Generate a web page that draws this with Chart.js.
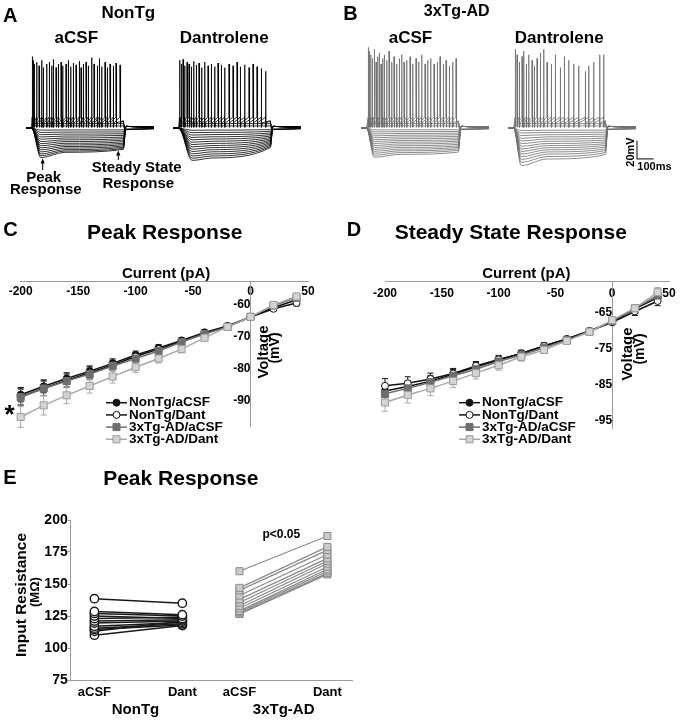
<!DOCTYPE html>
<html>
<head>
<meta charset="utf-8">
<script src="https://cdn.jsdelivr.net/npm/chart.js@4.4.1/dist/chart.umd.min.js"></script>
<style>
  body { margin: 0; background: #fff; }
  #fig { position: relative; width: 681px; height: 720px; overflow: hidden;
         font-family: "Liberation Sans", Arial, Helvetica, sans-serif; font-weight: bold; color: #000; }
  #fig canvas { position: absolute; }
  .t { position: absolute; line-height: 1; white-space: nowrap; }
</style>
</head>
<body>
<div id="fig">
  <canvas id="traceA1" width="130" height="135" style="left:25px;top:40.5px"></canvas>
  <canvas id="traceA2" width="130" height="135" style="left:172.3px;top:40.5px"></canvas>
  <canvas id="traceB1" width="130" height="135" style="left:360px;top:40.5px"></canvas>
  <canvas id="traceB2" width="150" height="135" style="left:506.7px;top:40.5px"></canvas>
  <canvas id="chartC" width="340" height="200" style="left:0;top:250px"></canvas>
  <canvas id="chartD" width="336" height="200" style="left:345px;top:250px"></canvas>
  <canvas id="chartE" width="360" height="225" style="left:0;top:495px"></canvas>
  <svg width="681" height="720" style="position:absolute;left:0;top:0">
    <line x1="42.7" y1="170" x2="42.7" y2="162" stroke="#000" stroke-width="1"/>
    <polygon points="42.7,158.5 40.6,163.5 44.8,163.5" fill="#000"/>
    <line x1="118.3" y1="160" x2="118.3" y2="154" stroke="#000" stroke-width="1"/>
    <polygon points="118.3,150.5 116.2,155.5 120.4,155.5" fill="#000"/>
  </svg>
</div>
<script>
// ---- panel A / B traces (mV relative to rest, ms from step onset) ----
const aAcsfPeak   = [-2, -4.6, -7, -9.5, -12, -14.5, -16.8, -19, -21.3, -23.5, -25.8, -28, -30, -32];
const aAcsfMid    = [-1.9, -4.2, -6.4, -8.5, -10.6, -12.6, -14.5, -16.4, -18.2, -19.9, -21.6, -23.3, -24.8, -26.2];
const aAcsfSteady = [-1.8, -4, -6, -7.8, -9.6, -11.3, -13, -14.7, -16.3, -17.8, -19.3, -20.7, -22, -23];
const aAcsfSpikeT = [4, 10, 16, 30, 44, 60, 70, 90, 106, 120, 130, 146, 160, 176, 186, 206, 220, 234, 250, 266,
                     286, 296, 310, 326, 340, 360, 374, 394, 406, 420, 440, 454, 470, 490, 506, 530];
const aAcsfSpikeH = [78, 74, 70, 72, 68, 74, 66, 70, 72, 68, 75, 66, 70, 72, 68, 70, 74, 67, 71, 69,
                     73, 66, 70, 72, 68, 77, 70, 68, 76, 67, 72, 66, 70, 68, 71, 69];

const aDantPeak   = [-2.2, -4.8, -7.4, -10, -12.6, -15.2, -17.8, -20.3, -22.8, -25.3, -27.8, -30.2, -32.6, -35];
const aDantMid    = [-2, -4.5, -6.9, -9.3, -11.7, -14.1, -16.5, -18.8, -21.1, -23.4, -25.7, -28, -30.2, -32.4];
const aDantSteady = [-1.5, -3.4, -5.2, -6.9, -8.5, -10, -11.5, -13, -14.4, -15.8, -17.2, -18.6, -19.8, -21];
const aDantSpikeT = [6, 16, 26, 36, 50, 62, 76, 90, 106, 122, 138, 156, 176, 196, 216, 236, 256, 276, 302, 326,
                     350, 370, 396, 422, 446, 470, 496, 522];
const aDantSpikeH = [74, 70, 75, 68, 72, 70, 67, 73, 69, 71, 66, 72, 68, 70, 67, 71, 69, 66, 70, 68,
                     72, 67, 69, 66, 70, 67, 65, 62];

const bAcsfPeak   = [-1.8, -4, -6.2, -8.3, -10.4, -12.5, -14.6, -16.7, -18.8, -20.9, -23, -25.1, -27.2, -29.4, -31.6];
const bAcsfMid    = [-1.7, -3.7, -5.7, -7.6, -9.5, -11.4, -13.3, -15.2, -17.1, -19, -20.9, -22.8, -24.6, -26.5, -28.4];
const bAcsfSteady = [-1.6, -3.5, -5.3, -7.1, -8.9, -10.7, -12.4, -14.1, -15.8, -17.5, -19.2, -20.8, -22.4, -24, -26];
const bAcsfSpikeT = [10, 16, 24, 34, 46, 56, 66, 76, 86, 96, 106, 120, 134, 150, 164, 180, 196, 210, 224, 240,
                     260, 276, 296, 312, 330, 350, 366, 384, 404, 424, 440, 460, 476, 496, 516, 536];
const bAcsfSpikeH = [88, 84, 80, 76, 86, 72, 78, 82, 70, 76, 80, 74, 84, 72, 78, 70, 76, 80, 72, 74,
                     78, 70, 76, 72, 80, 70, 74, 76, 70, 72, 78, 70, 74, 68, 72, 76];

const bDantPeak   = [-2.4, -5.2, -8, -10.9, -13.8, -16.7, -19.6, -22.5, -25.3, -28.1, -31, -34, -37.2, -40.7];
const bDantMid    = [-2.2, -4.6, -7, -9.4, -11.8, -14.2, -16.6, -18.9, -21.2, -23.5, -25.8, -28.2, -30.8, -33.5];
const bDantSteady = [-2, -4.2, -6.4, -8.6, -10.7, -12.8, -14.8, -16.8, -18.7, -20.6, -22.5, -24.4, -26.5, -28.7];
const bDantSpikeT = [10, 20, 34, 50, 60, 76, 90, 110, 124, 140, 160, 180, 200, 226, 250, 280, 304, 330, 360, 390,
                     430, 450, 480, 516, 540];
const bDantSpikeH = [86, 80, 72, 78, 84, 70, 80, 74, 68, 76, 82, 86, 72, 70, 80, 66, 78, 74, 70, 68,
                     62, 68, 72, 80, 80];

const subThreshold = [2.5, 5];
const scaleBarMv = 20;
const scaleBarMs = 100;

// ---- panels C / D: I-V curves ----
const currents = [-200, -180, -160, -140, -120, -100, -80, -60, -40, -20, 0, 20, 40];
const seriesNames = ['NonTg/aCSF', 'NonTg/Dant', '3xTg-AD/aCSF', '3xTg-AD/Dant'];

const peakNonTgAcsf = [-88.0, -85.4, -83.0, -80.7, -78.3, -75.7, -73.5, -71.2, -68.7, -66.7, -63.9, -61.0, -58.7];
const peakNonTgDant = [-88.6, -86.0, -83.6, -81.2, -78.8, -76.2, -73.9, -71.5, -69.0, -66.9, -64.0, -61.4, -59.6];
const peak3xAcsf    = [-88.8, -86.1, -83.8, -81.6, -79.1, -76.8, -74.5, -71.7, -69.2, -67.0, -63.9, -60.4, -58.0];
const peak3xDant    = [-94.9, -91.3, -88.2, -85.3, -82.4, -79.5, -76.8, -73.9, -70.4, -67.0, -63.9, -60.2, -57.6];
const peakErrNonTgAcsf = [2.2, 2.0, 1.8, 1.6, 1.4, 1.2, 1.0, 0.9, 0.7, 0.6, 0.5, 0.6, 0.8];
const peakErrNonTgDant = [2.6, 2.3, 2.0, 1.8, 1.5, 1.3, 1.1, 0.9, 0.7, 0.5, 0.4, 0.6, 0.9];
const peakErr3xAcsf    = [2.4, 2.2, 2.0, 1.8, 1.6, 1.4, 1.2, 1.0, 0.8, 0.6, 0.5, 0.7, 0.9];
const peakErr3xDant    = [3.2, 3.0, 2.6, 2.2, 2.0, 1.7, 1.4, 1.1, 0.9, 0.6, 0.5, 0.7, 1.0];

const ssNonTgAcsf = [-86.7, -85.5, -84.0, -82.1, -80.1, -78.2, -76.4, -74.3, -72.4, -70.2, -67.6, -64.1, -61.0];
const ssNonTgDant = [-85.3, -84.6, -83.4, -81.9, -79.8, -78.0, -76.4, -74.3, -72.4, -70.2, -67.8, -64.8, -61.9];
const ss3xAcsf    = [-87.5, -86.0, -84.3, -82.5, -80.7, -78.6, -76.8, -74.8, -72.7, -70.4, -67.4, -63.9, -60.4];
const ss3xDant    = [-89.9, -87.8, -86.0, -84.0, -81.8, -79.6, -77.3, -75.4, -72.9, -70.4, -67.2, -63.9, -59.5];
const ssErrNonTgAcsf = [1.8, 1.6, 1.5, 1.3, 1.2, 1.0, 0.9, 0.8, 0.6, 0.5, 0.6, 0.9, 1.1];
const ssErrNonTgDant = [2.0, 1.8, 1.6, 1.4, 1.2, 1.1, 0.9, 0.8, 0.6, 0.5, 0.6, 1.1, 1.3];
const ssErr3xAcsf    = [2.0, 1.8, 1.6, 1.5, 1.3, 1.1, 1.0, 0.8, 0.6, 0.5, 0.6, 0.9, 1.2];
const ssErr3xDant    = [2.4, 2.2, 2.0, 1.8, 1.6, 1.4, 1.2, 1.0, 0.8, 0.6, 0.6, 1.0, 1.3];

const yTicksC = [-60, -70, -80, -90];
const yTicksD = [-65, -75, -85, -95];

// ---- panel E: input resistance, paired cells ----
const groupPos = [1, 2, 2.65, 3.65];
const groupLabels = ['aCSF', 'Dant', 'aCSF', 'Dant'];
const nonTgAcsfR = [138.5, 128.5, 127, 125, 123, 121, 119.5, 117, 115.5, 114.5, 113, 110];
const nonTgDantR = [135, 126, 125, 123, 124, 122, 121, 120, 119, 118, 121, 117.5];
const tgAcsfR    = [160, 147, 145, 141, 138, 135.5, 133, 131, 129, 128, 127, 126.5];
const tgDantR    = [187.5, 179, 176.5, 173, 170, 168, 166, 163.5, 161.5, 160, 158.5, 157.5];

const FONT = '"Liberation Sans", Arial, Helvetica, sans-serif';
const AXIS = '#9a9a9a';
Chart.defaults.font.family = FONT;

const fig = document.getElementById('fig');

/**
 * Places a text label, x is the centre (or left edge) and base the baseline
 */
function label(text, x, base, size, left) {
  const d = document.createElement('div');
  d.className = 't';
  d.textContent = text;
  d.style.fontSize = size + 'px';
  d.style.top = (base - 0.847 * size) + 'px';
  d.style.left = x + 'px';
  if (!left) d.style.transform = 'translateX(-50%)';
  fig.appendChild(d);
}

/**
 * Places a text label rotated to read bottom-to-top, centred on cx, cy
 */
function vlabel(text, cx, cy, size) {
  const d = document.createElement('div');
  d.className = 't';
  d.textContent = text;
  d.style.fontSize = size + 'px';
  d.style.left = cx + 'px';
  d.style.top = cy + 'px';
  d.style.transform = 'translate(-50%,-50%) rotate(-90deg)';
  fig.appendChild(d);
}

const pts = arr => arr.map(([x, y]) => ({ x, y }));

/**
 * Builds the overlaid sweeps of one recording: hyperpolarising steps,
 * two subthreshold steps and two spiking steps sharing the spike list
 */
function sweepSets(peak, mid, steady, spikeT, spikeH, peakT, color) {
  const base = { borderColor: color, borderWidth: 0.8, pointRadius: 0, fill: false };
  const sets = [];
  peak.forEach((pk, i) => {
    sets.push({ ...base, cubicInterpolationMode: 'monotone',
      data: pts([[-34, 0], [0, 0], [peakT, pk], [200, mid[i]], [550, steady[i]], [566, 2], [734, 1]]) });
  });
  subThreshold.forEach(lvl => {
    sets.push({ ...base, cubicInterpolationMode: 'monotone',
      data: pts([[-34, 0], [0, 0], [20, lvl], [550, lvl], [566, -1], [734, -0.3]]) });
  });
  [0, 1].forEach(k => {
    const line = [[-34, 0], [0, 0]];
    spikeT.forEach((t, j) => {
      if (j % 2 !== k) return;
      line.push([t - 1, 12], [t, spikeH[j]], [t + 1.5, 1], [t + 5, 6]);
    });
    line.push([550, 8], [556, 0], [566, -1.5], [734, -0.5]);
    sets.push({ ...base, tension: 0, data: pts(line) });
  });
  return sets;
}

function traceChart(id, sets, xMax) {
  new Chart(document.getElementById(id), {
    type: 'line',
    data: { datasets: sets },
    options: {
      responsive: false, animation: false, events: [],
      layout: { padding: 0 },
      plugins: { legend: { display: false }, tooltip: { enabled: false } },
      scales: {
        x: { type: 'linear', display: false, min: -40, max: xMax },
        y: { type: 'linear', display: false, min: -52, max: 95 }
      }
    }
  });
}

traceChart('traceA1', sweepSets(aAcsfPeak, aAcsfMid, aAcsfSteady, aAcsfSpikeT, aAcsfSpikeH, 55, '#000'), 740);
traceChart('traceA2', sweepSets(aDantPeak, aDantMid, aDantSteady, aDantSpikeT, aDantSpikeH, 80, '#000'), 740);
traceChart('traceB1', sweepSets(bAcsfPeak, bAcsfMid, bAcsfSteady, bAcsfSpikeT, bAcsfSpikeH, 45, '#707070'), 740);
const bDantSets = sweepSets(bDantPeak, bDantMid, bDantSteady, bDantSpikeT, bDantSpikeH, 45, '#707070');
// scale bar, anchored just right of the last trace
bDantSets.push({ borderColor: '#333', borderWidth: 1.2, pointRadius: 0, tension: 0,
  data: pts([[740, -33.4 + scaleBarMv], [740, -33.4], [740 + scaleBarMs, -33.4]]) });
traceChart('traceB2', bDantSets, 860);

/**
 * Draws mean +/- SEM bars under the markers, from dataset.errors
 */
const errorBars = {
  id: 'errorBars',
  beforeDatasetsDraw(chart) {
    const ctx = chart.ctx;
    const ys = chart.scales.y;
    chart.data.datasets.forEach((ds, i) => {
      const meta = chart.getDatasetMeta(i);
      ctx.save();
      ctx.strokeStyle = ds.borderColor;
      ctx.lineWidth = 1;
      meta.data.forEach((pt, j) => {
        const v = ds.data[j].y, e = ds.errors[j];
        const top = ys.getPixelForValue(v + e), bot = ys.getPixelForValue(v - e);
        ctx.beginPath();
        ctx.moveTo(pt.x, top); ctx.lineTo(pt.x, bot);
        ctx.moveTo(pt.x - 3, top); ctx.lineTo(pt.x + 3, top);
        ctx.moveTo(pt.x - 3, bot); ctx.lineTo(pt.x + 3, bot);
        ctx.stroke();
      });
      ctx.restore();
    });
  }
};

/**
 * Legend drawn at a fixed spot inside the plot, one row per dataset
 */
const ivLegend = {
  id: 'ivLegend',
  afterDraw(chart, args, opts) {
    const ctx = chart.ctx;
    ctx.save();
    ctx.font = 'bold 13.5px ' + FONT;
    ctx.textBaseline = 'middle';
    chart.data.datasets.forEach((ds, i) => {
      const y = opts.y + i * opts.gap;
      const cx = opts.x + 10.5;
      ctx.strokeStyle = ds.borderColor;
      ctx.lineWidth = 1.5;
      ctx.beginPath(); ctx.moveTo(opts.x, y); ctx.lineTo(opts.x + 21, y); ctx.stroke();
      ctx.fillStyle = ds.pointBackgroundColor;
      ctx.strokeStyle = ds.pointBorderColor;
      ctx.lineWidth = 1;
      ctx.beginPath();
      if (ds.pointStyle === 'rect') ctx.rect(cx - 3.5, y - 3.5, 7, 7);
      else ctx.arc(cx, y, 3.5, 0, Math.PI * 2);
      ctx.fill(); ctx.stroke();
      ctx.fillStyle = '#000';
      ctx.fillText(ds.label, opts.x + 23, y);
    });
    ctx.restore();
  }
};

const ivStyles = [
  { borderColor: '#111', pointBackgroundColor: '#111', pointBorderColor: '#111', pointStyle: 'circle', pointRadius: 3.5, order: 3 },
  { borderColor: '#111', pointBackgroundColor: '#fff', pointBorderColor: '#111', pointStyle: 'circle', pointRadius: 3.5, order: 2 },
  { borderColor: '#6e6e6e', pointBackgroundColor: '#6e6e6e', pointBorderColor: '#6e6e6e', pointStyle: 'rect', pointRadius: 5, order: 1 },
  { borderColor: '#a8a8a8', pointBackgroundColor: '#d4d4d4', pointBorderColor: '#9c9c9c', pointStyle: 'rect', pointRadius: 5, order: 0 }
];

function ivSets(valueLists, errLists) {
  return valueLists.map((vals, k) => ({
    label: seriesNames[k],
    data: currents.map((c, i) => ({ x: c, y: vals[i] })),
    errors: errLists[k],
    borderWidth: 1.5, pointBorderWidth: 1, tension: 0, clip: false,
    ...ivStyles[k]
  }));
}

function ivChart(id, sets, yMin, yMax, yTicks, pad, tickPad, legendPos) {
  new Chart(document.getElementById(id), {
    type: 'line',
    data: { datasets: sets },
    options: {
      responsive: false, animation: false, events: [],
      layout: { padding: pad },
      plugins: { legend: { display: false }, tooltip: { enabled: false }, ivLegend: legendPos },
      scales: {
        x: { type: 'linear', min: -200, max: 50, position: { y: yMax },
             grid: { display: false, drawTicks: false }, border: { color: AXIS, width: 1 },
             ticks: { stepSize: 50, padding: tickPad, color: '#000', font: { size: 12, weight: 'bold' } } },
        y: { type: 'linear', min: yMin, max: yMax, position: { x: 0 },
             grid: { display: false, drawTicks: false }, border: { color: AXIS, width: 1 },
             afterBuildTicks: s => { s.ticks = yTicks.map(v => ({ value: v })); },
             ticks: { color: '#000', font: { size: 12, weight: 'bold' } } }
      }
    },
    plugins: [errorBars, ivLegend]
  });
}

ivChart('chartC',
  ivSets([peakNonTgAcsf, peakNonTgDant, peak3xAcsf, peak3xDant],
         [peakErrNonTgAcsf, peakErrNonTgDant, peakErr3xAcsf, peakErr3xDant]),
  -97.7, -52.8, yTicksC, { left: 20.7, right: 32, top: 31, bottom: 24 }, 3,
  { x: 106, y: 152.7, gap: 12.2 });

ivChart('chartD',
  ivSets([ssNonTgAcsf, ssNonTgDant, ss3xAcsf, ss3xDant],
         [ssErrNonTgAcsf, ssErrNonTgDant, ssErr3xAcsf, ssErr3xDant]),
  -97, -56.4, yTicksD, { left: 40, right: 12, top: 31, bottom: 21.7 }, 5,
  { x: 114, y: 152.7, gap: 12.2 });

// panel E: one dataset per cell, aCSF -> Dant
const eSets = [];
nonTgAcsfR.forEach((v, i) => eSets.push({
  data: [{ x: groupPos[0], y: v }, { x: groupPos[1], y: nonTgDantR[i] }],
  borderColor: '#1a1a1a', borderWidth: 1.5, tension: 0,
  pointStyle: 'circle', pointRadius: 4.2, pointBackgroundColor: '#fff',
  pointBorderColor: '#1a1a1a', pointBorderWidth: 1.4
}));
tgAcsfR.forEach((v, i) => eSets.push({
  data: [{ x: groupPos[2], y: v }, { x: groupPos[3], y: tgDantR[i] }],
  borderColor: '#8a8a8a', borderWidth: 1.2, tension: 0,
  pointStyle: 'rect', pointRadius: 5, pointBackgroundColor: '#cacaca',
  pointBorderColor: '#8a8a8a', pointBorderWidth: 1
}));

new Chart(document.getElementById('chartE'), {
  type: 'line',
  data: { datasets: eSets },
  options: {
    responsive: false, animation: false, events: [],
    layout: { padding: { left: 0, right: 8, top: 25, bottom: 0 } },
    plugins: { legend: { display: false }, tooltip: { enabled: false } },
    scales: {
      x: { type: 'linear', min: 0.73, max: 3.93,
           grid: { display: false, drawTicks: false }, border: { color: AXIS, width: 1 },
           afterBuildTicks: s => { s.ticks = groupPos.map(v => ({ value: v })); },
           afterFit: s => { s.height = 40; },
           ticks: { padding: 5, autoSkip: false, maxRotation: 0, color: '#000',
                    font: { size: 13, weight: 'bold' }, callback: (v, i) => groupLabels[i] } },
      y: { type: 'linear', min: 75, max: 200,
           grid: { display: true, drawOnChartArea: false, drawTicks: true, tickLength: 3, color: AXIS },
           border: { color: AXIS, width: 1 },
           afterFit: s => { s.width = 70.7; },
           ticks: { stepSize: 25, padding: 0, color: '#000', font: { size: 14, weight: 'bold' } } }
    }
  }
});

// ---- text ----
label('A', 3, 22, 20, true);
label('NonTg', 128.3, 18, 17);
label('aCSF', 76.3, 43.3, 17);
label('Dantrolene', 224.2, 43.3, 17);
label('Peak', 43.7, 181.4, 15);
label('Response', 45.8, 193.4, 15);
label('Steady State', 136.7, 171.4, 15);
label('Response', 138.3, 187.4, 15);
label('B', 343.3, 20, 20, true);
label('3xTg-AD', 456.7, 16.7, 16);
label('aCSF', 410.5, 43.3, 17);
label('Dantrolene', 559.2, 43.3, 17);
vlabel('20mV', 630, 152, 11);
label('100ms', 654.5, 170.2, 11);

label('C', 3.3, 236, 20, true);
label('Peak Response', 164.7, 238.3, 21);
label('D', 346.7, 236, 20, true);
label('Steady State Response', 510.8, 238.3, 21);
label('Current (pA)', 166.2, 278, 15);
label('Current (pA)', 526.3, 278, 15);
vlabel('Voltage', 261.5, 351.5, 15);
vlabel('(mV)', 274, 347.5, 14);
vlabel('Voltage', 626.2, 354, 15);
vlabel('(mV)', 639, 349, 14);
label('*', 9.5, 423.4, 26);

label('E', 3.3, 484.3, 20, true);
label('Peak Response', 180.8, 485, 21);
label('p<0.05', 281.3, 537.9, 12);
label('NonTg', 135.5, 713.4, 15);
label('3xTg-AD', 283.7, 713.4, 15);
vlabel('Input Resistance', 21, 595, 15.5);
vlabel('(M\u03A9)', 34, 591.7, 13);
</script>
</body>
</html>
